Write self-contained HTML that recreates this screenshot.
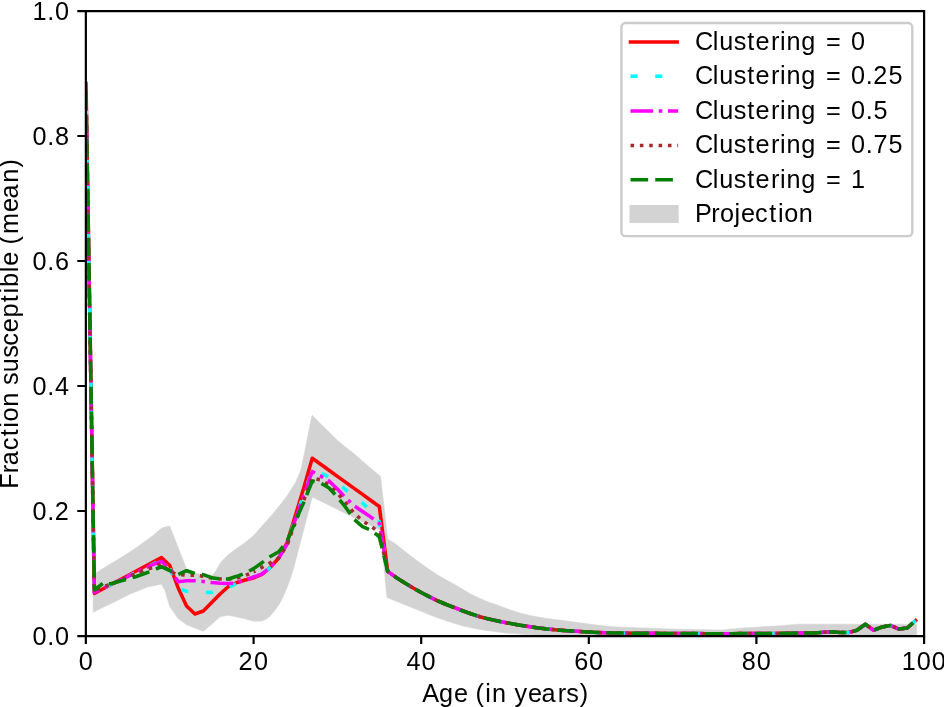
<!DOCTYPE html><html><head><meta charset="utf-8"><title>Fraction susceptible by age</title><style>html,body{margin:0;padding:0;background:#fff;overflow:hidden;}svg{display:block;will-change:transform;}text{font-family:"Liberation Sans",sans-serif;fill:#000;}</style></head><body>
<svg width="944" height="707" viewBox="0 0 944 707">
<rect x="0" y="0" width="944" height="707" fill="#fff"/>
<defs><clipPath id="ax"><rect x="86.0" y="11.0" width="838.0" height="625.0"/></clipPath></defs>
<g clip-path="url(#ax)">
<polygon points="93.12,574.50 94.38,574.00 102.76,568.60 111.14,563.60 119.52,558.50 127.90,553.30 136.28,547.70 144.66,541.50 153.04,535.40 161.42,528.30 165.61,526.80 169.80,526.20 173.99,536.90 178.18,547.50 186.56,569.00 194.94,573.00 203.32,575.00 211.70,576.00 215.89,571.00 220.08,563.40 224.27,558.50 228.46,554.50 236.84,548.30 245.22,542.40 253.60,535.50 261.98,526.00 270.36,516.80 278.74,506.60 287.12,495.80 295.50,482.60 300.53,470.90 304.38,453.40 306.98,440.00 311.42,418.00 312.26,415.20 320.64,423.90 329.02,432.00 337.40,440.20 345.78,447.20 354.16,453.70 362.54,461.20 370.92,468.30 379.30,475.50 380.56,476.50 387.68,538.90 396.06,544.20 404.44,551.00 412.82,557.60 421.20,563.70 429.58,569.60 437.96,575.20 446.34,579.90 454.72,584.40 463.10,589.60 471.48,594.50 479.86,598.40 488.24,601.90 496.62,604.80 505.00,608.00 513.38,610.90 521.76,613.40 530.14,615.50 538.52,617.10 546.90,618.50 555.28,619.60 563.66,620.60 572.04,621.80 580.42,622.80 588.80,624.00 597.18,625.10 605.56,626.10 613.94,626.80 622.32,627.30 643.27,627.90 680.14,629.20 722.04,630.00 743.83,627.90 779.86,625.70 798.30,624.20 916.71,624.20 916.71,637.50 563.66,636.50 546.90,635.60 538.52,635.30 530.14,634.80 521.76,634.30 513.38,633.60 505.00,632.80 496.62,631.80 488.24,630.70 479.86,629.40 471.48,627.80 463.10,626.00 454.72,623.60 446.34,620.80 437.96,617.90 429.58,614.70 421.20,611.30 412.82,608.00 404.44,604.60 396.06,601.20 387.68,597.80 386.84,597.30 380.56,531.00 379.30,530.00 312.26,497.00 303.88,529.30 295.50,561.00 292.40,572.50 289.80,580.20 286.28,589.50 282.93,597.20 279.41,604.00 275.22,609.90 270.11,615.90 266.17,619.30 261.98,621.00 253.60,621.20 245.22,618.90 236.84,616.90 228.46,615.30 220.08,616.70 211.70,624.30 203.32,631.20 194.94,628.00 186.56,624.70 178.18,618.60 169.80,606.80 164.77,590.00 161.42,584.20 157.23,585.00 147.43,587.10 130.41,593.90 113.40,602.40 102.76,607.40 94.38,611.70 93.12,612.30" fill="#d3d3d3" stroke="#d3d3d3" stroke-width="0.5"/>
<polyline points="86.00,83.60 94.38,593.50 102.76,589.00 111.14,584.50 119.52,580.00 127.90,575.50 136.28,571.00 144.66,566.50 153.04,562.00 161.42,557.50 169.80,565.50 178.18,588.00 186.56,606.00 194.94,614.00 203.32,611.00 211.70,602.50 220.08,594.00 228.46,586.50 236.84,582.50 245.22,580.00 253.60,578.00 261.98,574.40 270.36,567.40 278.74,558.00 287.12,542.50 295.50,515.00 303.88,487.50 312.26,458.20 320.64,464.24 329.02,470.27 337.40,476.31 345.78,482.35 354.16,488.39 362.54,494.43 370.92,500.46 379.30,506.50 387.68,571.40 396.06,577.40 404.44,582.75 412.82,587.80 421.20,592.50 429.58,596.90 437.96,601.00 446.34,604.50 454.72,607.70 463.10,611.00 471.48,614.00 479.86,616.70 488.24,618.90 496.62,620.80 505.00,622.50 513.38,624.10 521.76,625.50 530.14,626.80 538.52,627.90 546.90,628.90 555.28,629.80 563.66,630.50 572.04,631.10 580.42,631.60 588.80,632.10 597.18,632.50 605.56,632.80 613.94,633.00 622.32,633.10 630.70,633.20 639.08,633.26 647.46,633.32 655.84,633.38 664.22,633.44 672.60,633.50 680.98,633.54 689.36,633.58 697.74,633.62 706.12,633.66 714.50,633.70 722.88,633.68 731.26,633.66 739.64,633.64 748.02,633.62 756.40,633.60 764.78,633.52 773.16,633.45 781.54,633.38 789.92,633.30 798.30,633.10 806.68,633.00 815.06,633.00 823.44,632.30 831.82,631.80 840.20,632.40 848.58,632.50 856.96,630.30 865.34,624.30 873.72,630.20 882.10,627.00 890.48,625.40 898.86,629.10 907.24,628.00 915.62,620.60" fill="none" stroke="#ff0000" stroke-width="3.535" stroke-linejoin="round" stroke-linecap="square" />
<polyline points="86.00,95.00 94.38,592.50 102.76,588.44 111.14,584.38 119.52,580.31 127.90,576.25 136.28,572.19 144.66,568.12 153.04,564.06 161.42,560.00 169.80,568.00 178.18,588.00 186.56,591.30 194.94,591.90 203.32,592.20 211.70,592.40 220.08,591.00 228.46,587.00 236.84,583.50 245.22,580.00 253.60,577.00" fill="none" stroke="#00ffff" stroke-width="3.535" stroke-linejoin="round" stroke-linecap="butt" stroke-dasharray="7.070 17.670" stroke-dashoffset="9.523"/>
<polyline points="253.60,577.00 261.98,574.00 270.36,567.40 278.74,558.00 287.12,544.00 295.50,518.00 303.88,494.00 312.26,470.00 320.64,473.00 329.02,477.00 337.40,482.00 345.78,490.00 354.16,496.50 362.54,503.00 370.92,511.00 379.30,521.60 387.68,571.40 396.06,577.40 404.44,582.75 412.82,587.80 421.20,592.50 429.58,596.90 437.96,601.00 446.34,604.50 454.72,607.70 463.10,611.00 471.48,614.00 479.86,616.70 488.24,618.90 496.62,620.80 505.00,622.50 513.38,624.10 521.76,625.50 530.14,626.80 538.52,627.90 546.90,628.90 555.28,629.80 563.66,630.50 572.04,631.10 580.42,631.60 588.80,632.10 597.18,632.50 605.56,632.80 613.94,633.00 622.32,633.10 630.70,633.20 639.08,633.26 647.46,633.32 655.84,633.38 664.22,633.44 672.60,633.50 680.98,633.54 689.36,633.58 697.74,633.62 706.12,633.66 714.50,633.70 722.88,633.68 731.26,633.66 739.64,633.64 748.02,633.62 756.40,633.60 764.78,633.52 773.16,633.45 781.54,633.38 789.92,633.30 798.30,633.10 806.68,633.00 815.06,633.00 823.44,632.30 831.82,631.80 840.20,632.40 848.58,632.50 856.96,630.30 865.34,624.30 873.72,630.20 882.10,627.00 890.48,625.40 898.86,629.10 907.24,628.00 915.62,620.60" fill="none" stroke="#00ffff" stroke-width="3.535" stroke-linejoin="round" stroke-linecap="butt" stroke-dasharray="7.070 17.670" stroke-dashoffset="11.686"/>
<polyline points="86.00,95.00 94.38,592.50 102.76,588.50 111.14,584.50 119.52,580.50 127.90,576.50 136.28,572.50 144.66,568.50 153.04,564.50 161.42,561.30 169.80,569.00 178.18,581.70 186.56,580.80 194.94,580.80 203.32,581.40 211.70,582.60 220.08,583.20 228.46,583.60 236.84,583.00 245.22,580.00 253.60,577.00 261.98,574.00 270.36,567.40 278.74,558.00 287.12,544.00 295.50,519.00 303.88,495.00 312.26,471.50 320.64,476.00 329.02,481.00 337.40,489.00 345.78,498.00 354.16,505.80 362.54,511.50 370.92,517.10 379.30,523.30 387.68,571.40 396.06,577.40 404.44,582.75 412.82,587.80 421.20,592.50 429.58,596.90 437.96,601.00 446.34,604.50 454.72,607.70 463.10,611.00 471.48,614.00 479.86,616.70 488.24,618.90 496.62,620.80 505.00,622.50 513.38,624.10 521.76,625.50 530.14,626.80 538.52,627.90 546.90,628.90 555.28,629.80 563.66,630.50 572.04,631.10 580.42,631.60 588.80,632.10 597.18,632.50 605.56,632.80 613.94,633.00 622.32,633.10 630.70,633.20 639.08,633.26 647.46,633.32 655.84,633.38 664.22,633.44 672.60,633.50 680.98,633.54 689.36,633.58 697.74,633.62 706.12,633.66 714.50,633.70 722.88,633.68 731.26,633.66 739.64,633.64 748.02,633.62 756.40,633.60 764.78,633.52 773.16,633.45 781.54,633.38 789.92,633.30 798.30,633.10 806.68,633.00 815.06,633.00 823.44,632.30 831.82,631.80 840.20,632.40 848.58,632.50 856.96,630.30 865.34,624.30 873.72,630.20 882.10,627.00 890.48,625.40 898.86,629.10 907.24,628.00 915.62,620.60" fill="none" stroke="#ff00ff" stroke-width="3.535" stroke-linejoin="round" stroke-linecap="butt" stroke-dasharray="22.620 5.660 3.535 5.660" stroke-dashoffset="6.475"/>
<polyline points="86.00,95.00 94.38,591.00 102.76,587.00 111.14,584.00 119.52,580.60 127.90,577.20 136.28,573.60 144.66,570.00 153.04,567.50 161.42,563.50 169.80,572.00 178.18,574.40 186.56,575.30 194.94,575.30 203.32,576.20 211.70,578.00 220.08,579.00 228.46,579.30 236.84,578.00 245.22,575.50 253.60,572.00" fill="none" stroke="#a52a2a" stroke-width="3.535" stroke-linejoin="round" stroke-linecap="butt" stroke-dasharray="3.535 5.830" stroke-dashoffset="7.088"/>
<polyline points="253.60,572.00 261.98,567.40 270.36,562.70 278.74,558.00 287.12,545.00 295.50,522.00 303.88,500.00 312.26,478.00 320.64,480.00 329.02,485.00 337.40,493.00 345.78,503.00 354.16,513.10 362.54,521.00 370.92,526.20 379.30,532.40 387.68,571.40 396.06,577.40 404.44,582.75 412.82,587.80 421.20,592.50 429.58,596.90 437.96,601.00 446.34,604.50 454.72,607.70 463.10,611.00 471.48,614.00 479.86,616.70 488.24,618.90 496.62,620.80 505.00,622.50 513.38,624.10 521.76,625.50 530.14,626.80 538.52,627.90 546.90,628.90 555.28,629.80 563.66,630.50 572.04,631.10 580.42,631.60 588.80,632.10 597.18,632.50 605.56,632.80 613.94,633.00 622.32,633.10 630.70,633.20 639.08,633.26 647.46,633.32 655.84,633.38 664.22,633.44 672.60,633.50 680.98,633.54 689.36,633.58 697.74,633.62 706.12,633.66 714.50,633.70 722.88,633.68 731.26,633.66 739.64,633.64 748.02,633.62 756.40,633.60 764.78,633.52 773.16,633.45 781.54,633.38 789.92,633.30 798.30,633.10 806.68,633.00 815.06,633.00 823.44,632.30 831.82,631.80 840.20,632.40 848.58,632.50 856.96,630.30 865.34,624.30 873.72,630.20 882.10,627.00 890.48,625.40 898.86,629.10 907.24,628.00 915.62,620.60" fill="none" stroke="#a52a2a" stroke-width="3.535" stroke-linejoin="round" stroke-linecap="butt" stroke-dasharray="3.535 5.830" stroke-dashoffset="1.583"/>
<polyline points="86.00,91.60 94.38,590.00 102.76,583.50" fill="none" stroke="#008000" stroke-width="3.535" stroke-linejoin="round" stroke-linecap="butt" stroke-dasharray="17.670 7.070" stroke-dashoffset="1.725"/>
<polyline points="102.76,583.50 111.14,583.80 119.52,581.30 127.90,579.00 136.28,576.50 144.66,573.50 153.04,570.50 161.42,566.60 169.80,570.70 178.18,574.40 186.56,570.70 194.94,573.40 203.32,574.70 211.70,577.70 220.08,579.00 228.46,579.00 236.84,576.30 245.22,573.20 253.60,568.60 261.98,562.70 270.36,556.50 278.74,551.80 287.12,541.00 295.50,521.00 303.88,502.00 312.26,481.00 320.64,483.00 329.02,488.00 337.40,497.00 345.78,507.50 354.16,519.40 362.54,526.70 370.92,530.10 379.30,536.90 387.68,571.40 396.06,577.40 404.44,582.75 412.82,587.80 421.20,592.50 429.58,596.90 437.96,601.00 446.34,604.50 454.72,607.70 463.10,611.00 471.48,614.00 479.86,616.70 488.24,618.90 496.62,620.80 505.00,622.50 513.38,624.10 521.76,625.50 530.14,626.80 538.52,627.90 546.90,628.90 555.28,629.80 563.66,630.50 572.04,631.10 580.42,631.60 588.80,632.10 597.18,632.50 605.56,632.80 613.94,633.00 622.32,633.10 630.70,633.20 639.08,633.26 647.46,633.32 655.84,633.38 664.22,633.44 672.60,633.50 680.98,633.54 689.36,633.58 697.74,633.62 706.12,633.66 714.50,633.70 722.88,633.68 731.26,633.66 739.64,633.64 748.02,633.62 756.40,633.60 764.78,633.52 773.16,633.45 781.54,633.38 789.92,633.30 798.30,633.10 806.68,633.00 815.06,633.00 823.44,632.30 831.82,631.80 840.20,632.40 848.58,632.50 856.96,630.30 865.34,624.30 873.72,630.20 882.10,627.00 890.48,625.40 898.86,629.10 907.24,628.00 915.62,620.60" fill="none" stroke="#008000" stroke-width="3.535" stroke-linejoin="round" stroke-linecap="butt" stroke-dasharray="17.670 7.070" stroke-dashoffset="18.694"/>
</g>
<path d="M85.85 11.10V636.10 M924.10 11.10V636.10 M85.85 11.10H924.10 M85.85 636.10H924.10" stroke="#000" stroke-width="2.20" stroke-linecap="square" fill="none"/>
<path d="M85.85 636.10V644.10 M85.85 636.10H77.30 M253.60 636.10V644.10 M85.85 511.00H77.30 M421.20 636.10V644.10 M85.85 386.00H77.30 M588.80 636.10V644.10 M85.85 261.00H77.30 M756.40 636.10V644.10 M85.85 136.00H77.30 M924.10 636.10V644.10 M85.85 11.10H77.30" stroke="#000" stroke-width="2.20" fill="none"/>
<text x="32.25 46.85 54.50" y="645.00" font-size="25.00" transform="scale(1.010,1)">0.0</text>
<text x="32.25 46.85 54.19" y="520.00" font-size="25.00" transform="scale(1.010,1)">0.2</text>
<text x="32.25 46.85 54.50" y="395.00" font-size="25.00" transform="scale(1.010,1)">0.4</text>
<text x="32.25 46.85 54.50" y="270.00" font-size="25.00" transform="scale(1.010,1)">0.6</text>
<text x="32.25 46.85 54.50" y="145.00" font-size="25.00" transform="scale(1.010,1)">0.8</text>
<text x="32.12 46.85 54.50" y="20.00" font-size="25.00" transform="scale(1.010,1)">1.0</text>
<text x="78.04" y="670.00" font-size="25.00" transform="scale(1.010,1)">0</text>
<text x="236.26 251.40" y="670.00" font-size="25.00" transform="scale(1.010,1)">20</text>
<text x="402.51 417.34" y="670.00" font-size="25.00" transform="scale(1.010,1)">40</text>
<text x="568.45 583.28" y="670.00" font-size="25.00" transform="scale(1.010,1)">60</text>
<text x="734.39 749.22" y="670.00" font-size="25.00" transform="scale(1.010,1)">80</text>
<text x="892.78 907.75 922.58" y="670.00" font-size="25.00" transform="scale(1.010,1)">100</text>
<text x="418.11 434.75 449.50 463.81 470.74 480.56 487.05 501.58 509.40 522.82 536.20 552.25 560.76 573.94" y="701.60" font-size="25.00" transform="scale(1.010,1)">Age (in years)</text>
<g transform="translate(17.9,485.45) rotate(-90)"><text x="-3.29 12.14 19.93 34.75 48.70 57.25 63.41 77.94 92.43 99.57 112.07 126.41 138.41 151.58 166.20 181.42 189.97 196.54 211.18 217.43 231.71 238.62 248.92 270.84 284.18 299.61 314.88" y="0.00" font-size="25.00" transform="scale(1.010,1)">Fraction susceptible (mean)</text></g>
<rect x="621.4" y="23.0" width="290.9" height="213.1" rx="4.2" ry="4.2" fill="#fff" fill-opacity="0.8" stroke="#cccccc" stroke-width="2.4"/>
<line x1="630.5" y1="41.90" x2="677.2" y2="41.90" stroke="#ff0000" stroke-width="3.54" stroke-linecap="square"/>
<line x1="630.5" y1="76.30" x2="678.1" y2="76.30" stroke="#00ffff" stroke-width="3.54" stroke-linecap="butt" stroke-dasharray="7.07 17.67"/>
<line x1="630.5" y1="110.90" x2="678.1" y2="110.90" stroke="#ff00ff" stroke-width="3.54" stroke-linecap="butt" stroke-dasharray="22.62 5.66 3.535 5.66"/>
<line x1="630.5" y1="145.40" x2="678.1" y2="145.40" stroke="#a52a2a" stroke-width="3.54" stroke-linecap="butt" stroke-dasharray="3.535 5.83"/>
<line x1="630.5" y1="179.70" x2="678.1" y2="179.70" stroke="#008000" stroke-width="3.54" stroke-linecap="butt" stroke-dasharray="17.67 7.07"/>
<rect x="629.5" y="205" width="49.2" height="18" fill="#d3d3d3"/>
<text x="688.02 705.78 712.19 726.57 739.76 748.13 763.28 772.27 778.76 793.37 808.09 817.74 835.04 842.68" y="49.90" font-size="25.00" transform="scale(1.010,1)">Clustering = 0</text>
<text x="688.02 705.78 712.19 726.57 739.76 748.13 763.28 772.27 778.76 793.37 808.09 817.74 835.04 842.68 857.27 864.61 879.67" y="84.32" font-size="25.00" transform="scale(1.010,1)">Clustering = 0.25</text>
<text x="688.02 705.78 712.19 726.57 739.76 748.13 763.28 772.27 778.76 793.37 808.09 817.74 835.04 842.68 857.27 864.83" y="118.74" font-size="25.00" transform="scale(1.010,1)">Clustering = 0.5</text>
<text x="688.02 705.78 712.19 726.57 739.76 748.13 763.28 772.27 778.76 793.37 808.09 817.74 835.04 842.68 857.27 864.88 879.67" y="153.16" font-size="25.00" transform="scale(1.010,1)">Clustering = 0.75</text>
<text x="688.02 705.78 712.19 726.57 739.76 748.13 763.28 772.27 778.76 793.37 808.09 817.74 835.04 842.54" y="187.58" font-size="25.00" transform="scale(1.010,1)">Clustering = 1</text>
<text x="688.11 704.17 712.87 727.26 733.70 747.65 761.63 770.21 776.40 790.97" y="222.00" font-size="25.00" transform="scale(1.010,1)">Projection</text>
</svg></body></html>
